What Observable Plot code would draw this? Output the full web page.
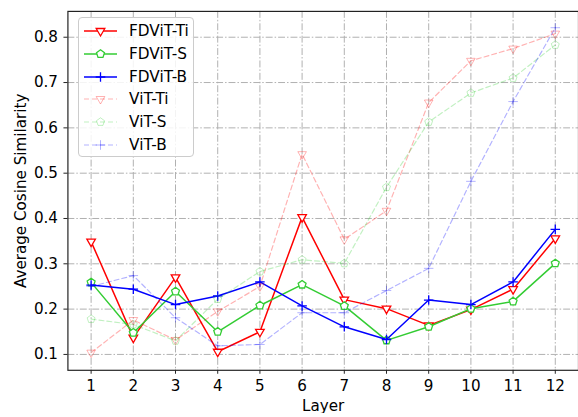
<!DOCTYPE html>
<html>
<head>
<meta charset="utf-8">
<script src="https://cdn.jsdelivr.net/npm/d3@7"></script>
<script src="https://cdn.jsdelivr.net/npm/@observablehq/plot@0.6"></script>
<style>
  body { margin: 0; background: #fff; }
  #wrap { position: relative; width: 578px; height: 417px; overflow: hidden; font-family: "DejaVu Sans", sans-serif; }
  #legend { position: absolute; left: 78px; top: 17px; width: 116px; height: 140px; border: 1px solid #cccccc; border-radius: 4px; background: rgba(255,255,255,0.85); box-sizing: border-box; }
  .row { position: absolute; left: 0; height: 20px; }
  .row span { position: absolute; left: 50px; top: 0; font-size: 15.3px; white-space: nowrap; color: #000; line-height: 20px; }
</style>
</head>
<body>
<div id="wrap"><div id="legend"></div></div>
<script>
const layers = [1, 2, 3, 4, 5, 6, 7, 8, 9, 10, 11, 12];
const fdvitTi = [0.349, 0.137, 0.270, 0.106, 0.150, 0.403, 0.221, 0.201, 0.164, 0.199, 0.244, 0.356];
const fdvitS  = [0.259, 0.148, 0.239, 0.150, 0.208, 0.254, 0.207, 0.131, 0.161, 0.201, 0.217, 0.301];
const fdvitB  = [0.253, 0.244, 0.210, 0.229, 0.260, 0.207, 0.161, 0.133, 0.220, 0.210, 0.260, 0.376];
const vitTi   = [0.104, 0.176, 0.132, 0.195, 0.250, 0.542, 0.354, 0.417, 0.656, 0.748, 0.775, 0.808];
const vitS    = [0.178, 0.166, 0.130, 0.222, 0.283, 0.309, 0.301, 0.469, 0.613, 0.677, 0.710, 0.783];
const vitB    = [0.250, 0.274, 0.181, 0.119, 0.122, 0.192, 0.192, 0.241, 0.290, 0.482, 0.658, 0.821];
const yTicks = [0.1, 0.2, 0.3, 0.4, 0.5, 0.6, 0.7, 0.8];
const xLabel = "Layer";
const yLabel = "Average Cosine Similarity";

// custom symbols
const triDown = {draw(ctx, size) { const r = Math.sqrt(size / Math.PI);
  ctx.moveTo(0, r); ctx.lineTo(-r * 0.866, -r * 0.5); ctx.lineTo(r * 0.866, -r * 0.5); ctx.closePath(); }};
const pentagon = {draw(ctx, size) { const r = Math.sqrt(size / Math.PI);
  for (let k = 0; k < 5; k++) { const a = -Math.PI / 2 + k * 2 * Math.PI / 5;
    const px = r * Math.cos(a), py = r * Math.sin(a);
    if (k === 0) ctx.moveTo(px, py); else ctx.lineTo(px, py); }
  ctx.closePath(); }};
const plus = {draw(ctx, size) { const r = Math.sqrt(size / Math.PI);
  ctx.moveTo(-r, 0); ctx.lineTo(r, 0); ctx.moveTo(0, -r); ctx.lineTo(0, r); }};

const series = [
  {name: "FDViT-Ti", values: fdvitTi, color: "#ff0000", symbol: triDown, r: 5, alpha: 1, dash: null, sw: 1.5},
  {name: "FDViT-S", values: fdvitS, color: "#33cc33", symbol: pentagon, r: 4.2, alpha: 1, dash: null, sw: 1.5},
  {name: "FDViT-B", values: fdvitB, color: "#0000ff", symbol: plus, r: 4.8, alpha: 1, dash: null, sw: 1.5},
  {name: "ViT-Ti", values: vitTi, color: "#ff0000", symbol: triDown, r: 5, alpha: 0.3, dash: "5,3", sw: 1.2},
  {name: "ViT-S", values: vitS, color: "#33cc33", symbol: pentagon, r: 4.2, alpha: 0.3, dash: "5,3", sw: 1.2},
  {name: "ViT-B", values: vitB, color: "#0000ff", symbol: plus, r: 4.8, alpha: 0.3, dash: "5,3", sw: 1.2}
];

const FS = 15.3;
const marks = [
  Plot.gridX(layers, {stroke: "#b0b0b0", strokeOpacity: 1, strokeWidth: 1, strokeDasharray: "7,2,1.5,2"}),
  Plot.gridY(yTicks, {stroke: "#b0b0b0", strokeOpacity: 1, strokeWidth: 1, strokeDasharray: "7,2,1.5,2"}),
];
for (const s of series) {
  const data = layers.map((l, i) => ({layer: l, value: s.values[i]}));
  marks.push(Plot.line(data, {x: "layer", y: "value", stroke: s.color, strokeOpacity: s.alpha, strokeWidth: s.sw, strokeDasharray: s.dash}));
  marks.push(Plot.dot(data, {x: "layer", y: "value", symbol: s.symbol, r: s.r, stroke: s.color, strokeOpacity: s.alpha, fill: "white", fillOpacity: s.alpha === 1 ? 1 : 0, strokeWidth: s.alpha === 1 ? 1.3 : 1}));
}
marks.push(Plot.frame({stroke: "#222", strokeWidth: 1.2}));
marks.push(Plot.axisX({ticks: layers, tickFormat: () => "", tickSize: 4, label: null, stroke: "#222"}));
marks.push(Plot.axisY({ticks: yTicks, tickFormat: () => "", tickSize: 4, label: null, stroke: "#222"}));
marks.push(Plot.text(layers, {x: d => d, text: d => String(d), frameAnchor: "bottom", textAnchor: "middle", lineAnchor: "middle", dy: 16, fontSize: FS, fill: "#000"}));
marks.push(Plot.text(yTicks, {y: d => d, text: d => d.toFixed(1), frameAnchor: "left", textAnchor: "end", lineAnchor: "middle", dx: -10, fontSize: FS, fill: "#000"}));
marks.push(Plot.text([xLabel], {text: d => d, frameAnchor: "bottom", textAnchor: "middle", lineAnchor: "middle", dy: 36, fontSize: FS, fill: "#000"}));
marks.push(Plot.text([yLabel], {text: d => d, frameAnchor: "left", textAnchor: "middle", lineAnchor: "middle", rotate: -90, dx: -47, fontSize: FS, fill: "#000"}));

const chart = Plot.plot({
  width: 583,
  height: 417,
  marginLeft: 68,
  marginRight: 0,
  marginTop: 11,
  marginBottom: 44,
  style: {fontFamily: "DejaVu Sans, sans-serif", color: "#000", background: "white", overflow: "hidden"},
  x: {domain: [0.45, 12.55], axis: null},
  y: {domain: [0.065, 0.857], axis: null},
  marks
});
chart.style.display = "block";
document.getElementById("wrap").prepend(chart);

// legend
const legend = d3.select("#legend");
series.forEach((s, i) => {
  const row = legend.append("div").attr("class", "row").style("top", (3 + i * 22.8) + "px").style("width", "114px");
  const svg = row.append("svg").attr("width", 44).attr("height", 20).style("position", "absolute").style("left", "0px").style("top", "0px");
  svg.append("line").attr("x1", 5).attr("x2", 38).attr("y1", 10).attr("y2", 10)
    .attr("stroke", s.color).attr("stroke-opacity", s.alpha).attr("stroke-width", s.sw)
    .attr("stroke-dasharray", s.dash);
  const p = d3.path(); s.symbol.draw(p, s.r * s.r * Math.PI);
  svg.append("path").attr("d", p.toString()).attr("transform", "translate(21.5,10)")
    .attr("stroke", s.color).attr("stroke-opacity", s.alpha).attr("fill", "white").attr("fill-opacity", s.alpha === 1 ? 1 : 0)
    .attr("stroke-width", s.alpha === 1 ? 1.3 : 1);
  row.append("span").text(s.name);
});
</script>
</body>
</html>
